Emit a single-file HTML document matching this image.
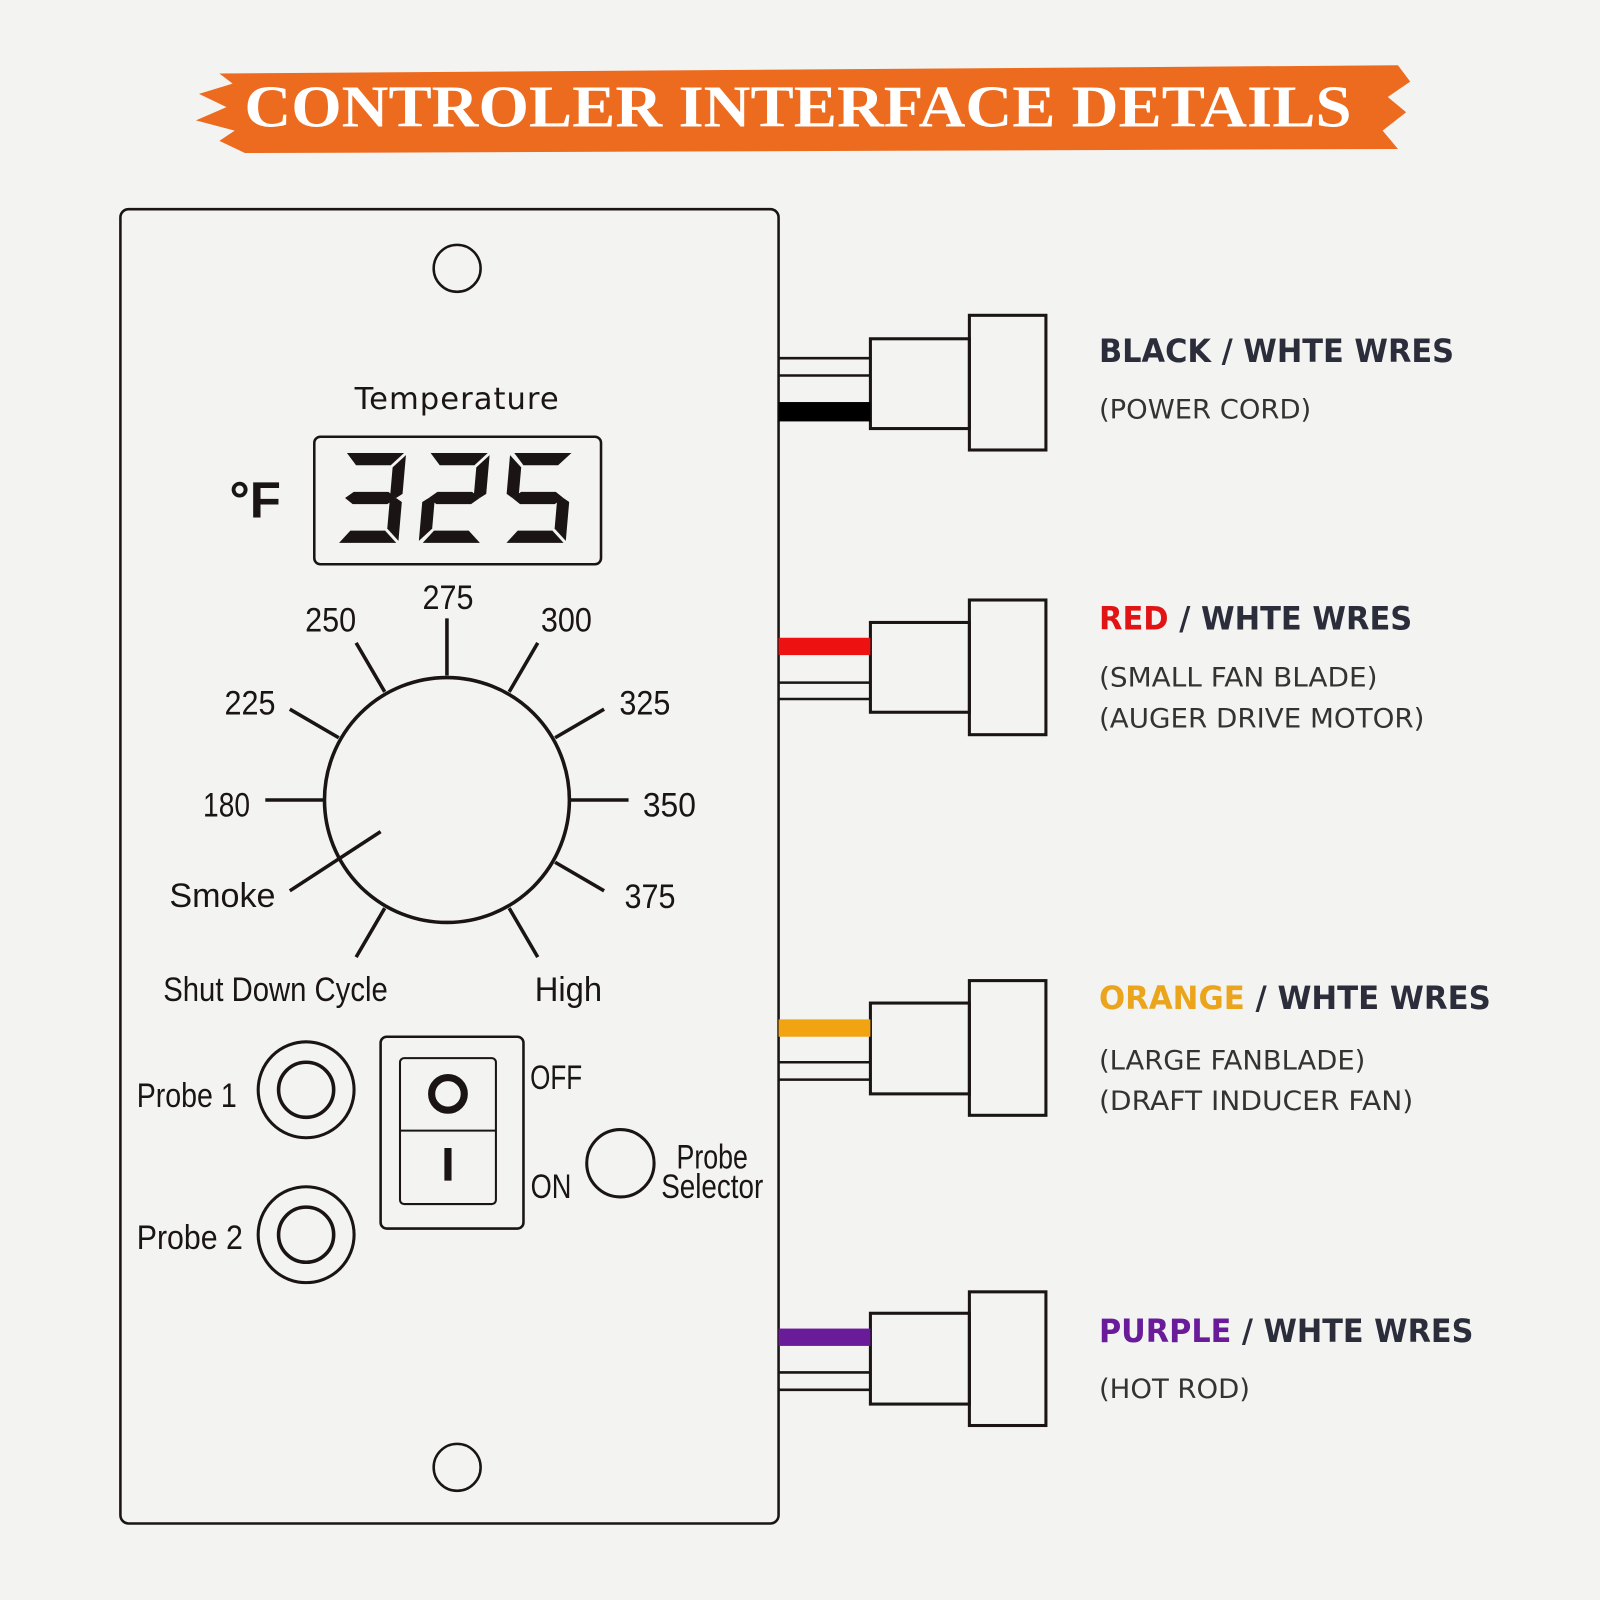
<!DOCTYPE html>
<html><head><meta charset="utf-8"><style>
html,body{margin:0;padding:0;background:#f3f3f2;}
svg{display:block}
.n{font-family:"Liberation Sans Narrow","Liberation Sans",sans-serif;fill:#1a1414;}
.r{font-family:"DejaVu Sans","Liberation Sans",sans-serif;}
</style></head><body>
<svg width="1600" height="1600" viewBox="0 0 1568 1568" xmlns="http://www.w3.org/2000/svg">
<rect width="1568" height="1568" fill="#f3f3f2"/>
<path d="M215,72 L1370,64 L1382,80 L1360,95 L1378,110 L1355,128 L1370,146 L240,150 L215,138 L230,128 L192,118 L222,105 L195,92 L228,82 Z" fill="#ec6b1f"/>
<text x="782" y="124" text-anchor="middle" font-family="'Liberation Serif',serif" font-weight="bold" font-size="58" fill="#fff" textLength="1085" lengthAdjust="spacingAndGlyphs">CONTROLER INTERFACE DETAILS</text>
<g fill="none" stroke="#1a1414">
<rect x="118" y="205" width="645" height="1288" rx="8" stroke-width="2.5"/>
<circle cx="448" cy="263" r="23" stroke-width="2.5"/>
<circle cx="448" cy="1438" r="23" stroke-width="2.5"/>
<rect x="308" y="428" width="281" height="125" rx="6" stroke-width="2.5"/>
<circle cx="438" cy="784" r="120" stroke-width="3.5"/>
<g stroke-width="3.5">
<line x1="438" y1="662" x2="438" y2="606"/>
<line x1="499" y1="678" x2="527" y2="630"/><line x1="377" y1="678" x2="349" y2="630"/>
<line x1="544" y1="723" x2="592" y2="695"/><line x1="332" y1="723" x2="284" y2="695"/>
<line x1="558" y1="784" x2="616" y2="784"/><line x1="318" y1="784" x2="260" y2="784"/>
<line x1="544" y1="845" x2="592" y2="873"/><line x1="373" y1="815" x2="284" y2="873"/>
<line x1="499" y1="890" x2="527" y2="938"/><line x1="377" y1="890" x2="349" y2="938"/>
</g>
<circle cx="300" cy="1068" r="47" stroke-width="3"/><circle cx="300" cy="1068" r="27" stroke-width="3.5"/>
<circle cx="300" cy="1210" r="47" stroke-width="3"/><circle cx="300" cy="1210" r="27" stroke-width="3.5"/>
<rect x="373" y="1016" width="140" height="188" rx="6" stroke-width="2.5"/>
<rect x="392" y="1037" width="94" height="143" rx="4" stroke-width="2"/>
<line x1="392" y1="1108" x2="486" y2="1108" stroke-width="2"/>
<circle cx="439" cy="1072" r="16" stroke-width="7"/>
<line x1="439" y1="1125" x2="439" y2="1157" stroke-width="7"/>
<circle cx="608" cy="1140" r="33" stroke-width="3"/>
</g>
<defs>
<g id="sa"><polygon points="4,0 60,0 48,12 14,12"/></g>
<g id="sb"><polygon points="50,14 62,2 62,40 56,44 50,40"/></g>
<g id="sc"><polygon points="50,48 56,44 62,48 62,86 50,74"/></g>
<g id="sd"><polygon points="4,88 14,76 48,76 60,88"/></g>
<g id="se"><polygon points="0,48 6,44 12,48 12,74 0,86"/></g>
<g id="sf"><polygon points="0,2 12,14 12,40 6,44 0,40"/></g>
<g id="sg"><polygon points="6,44 14,38 48,38 56,44 48,50 14,50"/></g>
</defs>
<g fill="#1a1414">
<g transform="translate(336,444) skewX(-5)"><use href="#sa"/><use href="#sb"/><use href="#sc"/><use href="#sd"/><use href="#sg"/></g>
<g transform="translate(418,444) skewX(-5)"><use href="#sa"/><use href="#sb"/><use href="#sg"/><use href="#se"/><use href="#sd"/></g>
<g transform="translate(500,444) skewX(-5)"><use href="#sa"/><use href="#sf"/><use href="#sg"/><use href="#sc"/><use href="#sd"/></g>
</g>
<text x="448" y="500" font-size="10" fill="none">325</text>
<text x="448" y="401" text-anchor="middle" class="r" font-size="30" fill="#1a1414" letter-spacing="1">Temperature</text>
<text x="250" y="507" text-anchor="middle" font-family="'Liberation Sans',sans-serif" font-weight="bold" font-size="50" fill="#1a1414">°F</text>
<g class="n" font-size="34" text-anchor="middle" lengthAdjust="spacingAndGlyphs">
<text x="439" y="597" textLength="50" lengthAdjust="spacingAndGlyphs">275</text><text x="324" y="619" textLength="50" lengthAdjust="spacingAndGlyphs">250</text><text x="555" y="619" textLength="50" lengthAdjust="spacingAndGlyphs">300</text>
<text x="245" y="700" textLength="50" lengthAdjust="spacingAndGlyphs">225</text><text x="632" y="700" textLength="50" lengthAdjust="spacingAndGlyphs">325</text>
<text x="222" y="800" textLength="46" lengthAdjust="spacingAndGlyphs">180</text><text x="656" y="800" textLength="52" lengthAdjust="spacingAndGlyphs">350</text>
<text x="218" y="889" textLength="104" lengthAdjust="spacingAndGlyphs">Smoke</text><text x="637" y="890" textLength="50" lengthAdjust="spacingAndGlyphs">375</text>
<text x="270" y="981" textLength="220" lengthAdjust="spacingAndGlyphs">Shut Down Cycle</text><text x="557" y="981" textLength="66" lengthAdjust="spacingAndGlyphs">High</text>
<text x="183" y="1085" textLength="98" lengthAdjust="spacingAndGlyphs">Probe 1</text><text x="186" y="1224" textLength="104" lengthAdjust="spacingAndGlyphs">Probe 2</text>
<text x="545" y="1067" textLength="51" lengthAdjust="spacingAndGlyphs">OFF</text><text x="540" y="1174" textLength="40" lengthAdjust="spacingAndGlyphs">ON</text>
<text x="698" y="1145" textLength="70" lengthAdjust="spacingAndGlyphs">Probe</text><text x="698" y="1174" textLength="100" lengthAdjust="spacingAndGlyphs">Selector</text>
</g>
<g fill="none" stroke="#1a1414" stroke-width="3">
<rect x="853" y="332" width="97" height="88"/><rect x="950" y="309" width="75" height="132"/>
<rect x="853" y="610" width="97" height="88"/><rect x="950" y="588" width="75" height="132"/>
<rect x="853" y="983" width="97" height="89"/><rect x="950" y="961" width="75" height="132"/>
<rect x="853" y="1287" width="97" height="89"/><rect x="950" y="1266" width="75" height="131"/>
<g stroke-width="2.5">
<line x1="763" y1="351" x2="853" y2="351"/><line x1="763" y1="368" x2="853" y2="368"/>
<line x1="763" y1="669" x2="853" y2="669"/><line x1="763" y1="685" x2="853" y2="685"/>
<line x1="763" y1="1041" x2="853" y2="1041"/><line x1="763" y1="1058" x2="853" y2="1058"/>
<line x1="763" y1="1345" x2="853" y2="1345"/><line x1="763" y1="1362" x2="853" y2="1362"/>
</g>
</g>
<rect x="763" y="394" width="90" height="19" fill="#000"/>
<rect x="763" y="625" width="90" height="17" fill="#ee1111"/>
<rect x="763" y="999" width="90" height="17" fill="#f2a312"/>
<rect x="763" y="1302" width="90" height="17" fill="#6a1b9a"/>
<g class="r" fill="#2b2e3a">
<g font-size="31" font-weight="bold">
<text x="1077" y="355" textLength="348" lengthAdjust="spacingAndGlyphs">BLACK / WHTE WRES</text>
<text x="1077" y="617" textLength="307" lengthAdjust="spacingAndGlyphs"><tspan fill="#e01414">RED</tspan> / WHTE WRES</text>
<text x="1077" y="989" textLength="384" lengthAdjust="spacingAndGlyphs"><tspan fill="#eba51c">ORANGE</tspan> / WHTE WRES</text>
<text x="1077" y="1315" textLength="367" lengthAdjust="spacingAndGlyphs"><tspan fill="#6a1b9a">PURPLE</tspan> / WHTE WRES</text>
</g>
<g font-size="26" fill="#333">
<text x="1077" y="410" textLength="208" lengthAdjust="spacingAndGlyphs">(POWER CORD)</text>
<text x="1077" y="673" textLength="273" lengthAdjust="spacingAndGlyphs">(SMALL FAN BLADE)</text>
<text x="1077" y="713" textLength="319" lengthAdjust="spacingAndGlyphs">(AUGER DRIVE MOTOR)</text>
<text x="1077" y="1048" textLength="261" lengthAdjust="spacingAndGlyphs">(LARGE FANBLADE)</text>
<text x="1077" y="1088" textLength="308" lengthAdjust="spacingAndGlyphs">(DRAFT INDUCER FAN)</text>
<text x="1077" y="1370" textLength="148" lengthAdjust="spacingAndGlyphs">(HOT ROD)</text>
</g>
</g>
</svg>
</body></html>
